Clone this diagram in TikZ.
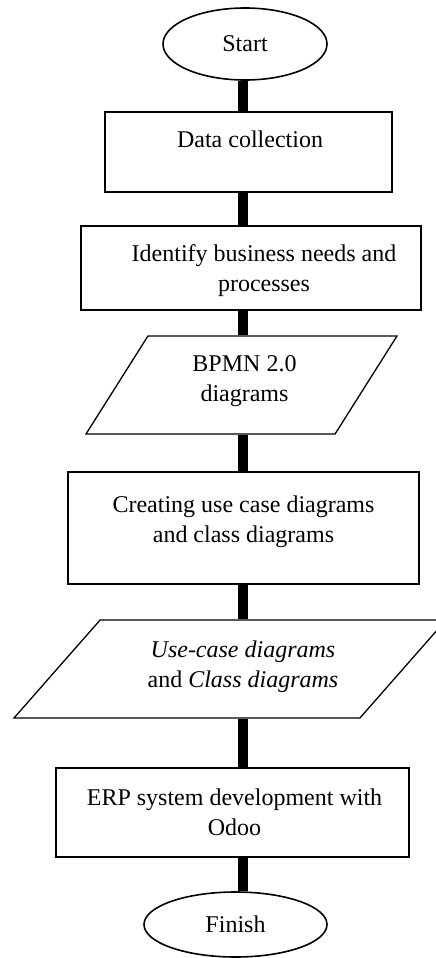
\documentclass[tikz,border=0pt]{standalone}
\usepackage{fontspec}
\setmainfont{Liberation Serif}
\usetikzlibrary{shapes.geometric}
\tikzset{
    x=1pt, y=-1pt,
    every node/.style={font=\fontsize{24}{30}\selectfont},
    every label/.style={align=center},
    terminal/.style={ellipse, draw, line width=1.6pt, fill=white, inner sep=0pt},
    process/.style={rectangle, draw, line width=2pt, fill=white},
    dataio/.style={trapezium, draw, line width=1.3pt, fill=white,
                   inner xsep=0pt, inner ysep=49pt, trapezium stretches body},
    link/.style={line width=10pt},
}

\begin{document}
\begin{tikzpicture}
    \useasboundingbox (0,0) rectangle (436,958);
    \coordinate (axis) at (243,0);

    \node[terminal, minimum width=164pt, minimum height=72pt] (start) at (245,44) {Start};
    \node[process, minimum width=287pt, minimum height=80pt,
          label={[xshift=1.5pt, yshift=12.5pt]center:Data collection}] (data) at (248.5,152) {};
    \node[process, minimum width=340pt, minimum height=84pt,
          label={[xshift=13pt, yshift=-3pt]center:{Identify business needs and\\processes}}] (ident) at (251,268) {};
    \node[dataio, trapezium left angle=57.7, trapezium right angle=122.3, minimum width=311pt,
          label={[xshift=3pt, yshift=4pt]center:{BPMN 2.0\\diagrams}}] (bpmn) at (241.5,385) {};
    \node[process, minimum width=351pt, minimum height=112pt,
          label={[yshift=6.5pt]center:{Creating use case diagrams\\and class diagrams}}] (create) at (243.5,528) {};
    \node[dataio, trapezium left angle=48.7, trapezium right angle=131.3, minimum width=432pt,
          label={[xshift=13pt, yshift=2pt]center:{\textit{Use-case diagrams}\\and \textit{Class diagrams}}}] (ucd) at (230,669) {};
    \node[process, minimum width=353pt, minimum height=89pt,
          label={[xshift=2pt]center:{ERP system development with\\Odoo}}] (erp) at (232.5,812.5) {};
    \node[terminal, minimum width=183pt, minimum height=65pt] (finish) at (235.5,924.5) {Finish};

    \draw[link] (start.south -| axis) -- (data.north -| axis)
                (data.south -| axis) -- (ident.north -| axis)
                (ident.south -| axis) -- (bpmn.north -| axis)
                (bpmn.south -| axis) -- (create.north -| axis)
                (create.south -| axis) -- (ucd.north -| axis)
                (ucd.south -| axis) -- (erp.north -| axis)
                (erp.south -| axis) -- (finish.north -| axis);
\end{tikzpicture}
\end{document}
